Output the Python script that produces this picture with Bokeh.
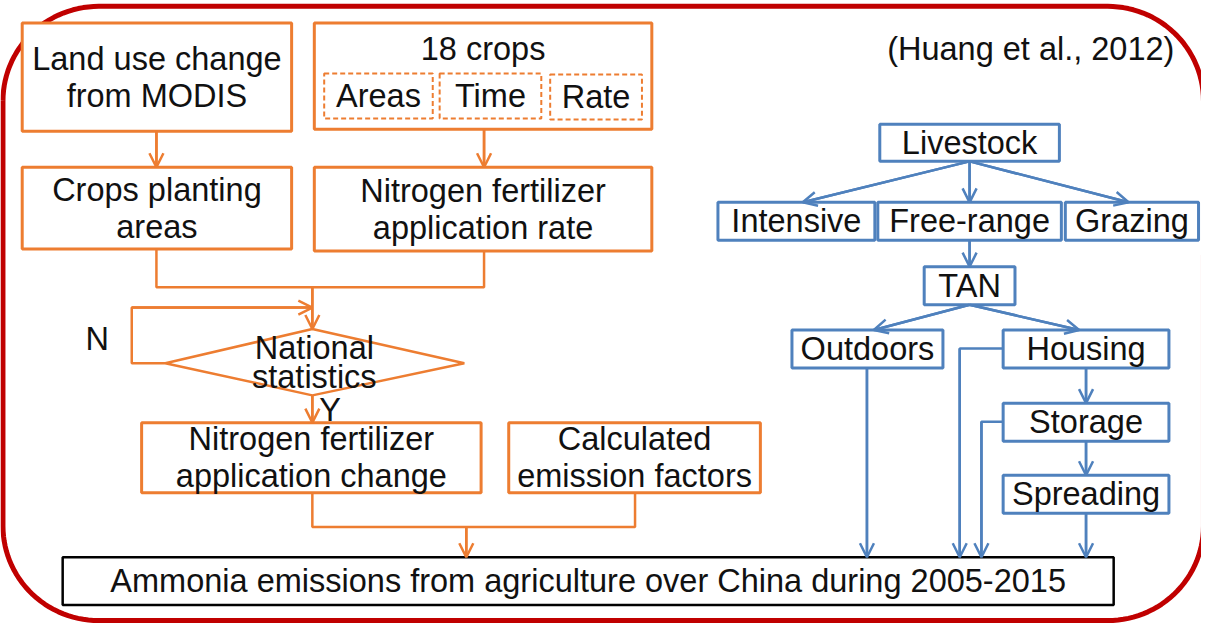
import numpy as np
from bokeh.plotting import figure
from bokeh.models import Range1d, ColumnDataSource, Arrow, OpenHead
from bokeh.core.properties import value
from bokeh.embed import file_html
from bokeh.resources import INLINE

ORANGE = "#ED7D31"
BLUE = "#4F81BD"
RED = "#C00000"
FONT = value("Liberation Sans")
FS = "32.5px"

# ---- boxes: label lines, left, right, top, bottom ----
orange_boxes = [
    (["Land use change", "from MODIS"], 22, 295, 23, 134),
    (["18 crops"], 318, 660, 23, 132),
    (["Crops planting", "areas"], 22, 295, 171, 255),
    (["Nitrogen fertilizer", "application rate"], 318, 660, 171, 257),
    (["Nitrogen fertilizer", "application change"], 143, 487, 433, 505),
    (["Calculated", "emission factors"], 515, 770, 433, 505),
]
dashed_boxes = [
    (["Areas"], 328, 438, 75, 121),
    (["Time"], 445, 548, 75, 121),
    (["Rate"], 557, 650, 76, 122),
]
blue_boxes = [
    (["Livestock"], 891, 1073, 127, 165),
    (["Intensive"], 727, 886, 207, 246),
    (["Free-range"], 889, 1075, 207, 246),
    (["Grazing"], 1079, 1214, 207, 246),
    (["TAN"], 936, 1028, 273, 312),
    (["Outdoors"], 802, 955, 338, 377),
    (["Housing"], 1016, 1184, 338, 377),
    (["Storage"], 1016, 1184, 413, 452),
    (["Spreading"], 1016, 1184, 487, 526),
]
black_boxes = [
    (["Ammonia emissions from agriculture over China during 2005-2015"], 63, 1128, 571, 620),
]
diamond_label = ["National", "statistics"]
diamond_x = [167, 316, 470, 316]
diamond_y = [372, 337, 372, 405]

free_labels = ["(Huang et al., 2012)", "N", "Y"]
free_x = [1044, 98, 334]
free_y = [50, 347, 420]

# ---- connectors: polyline points, arrow at end? ----
orange_links = [
    ([158, 158], [134, 171], True),
    ([490, 490], [132, 171], True),
    ([158, 158, 490, 490], [255, 294, 294, 257], False),
    ([316, 316], [294, 337], True),
    ([167, 133, 133, 316], [372, 372, 315, 315], True),
    ([316, 316], [405, 433], True),
    ([316, 316, 643, 643], [505, 540, 540, 505], False),
    ([472, 472], [540, 571], True),
]
blue_links = [
    ([982, 813], [165, 207], True),
    ([982, 982], [165, 207], True),
    ([982, 1143], [165, 207], True),
    ([982, 982], [246, 273], True),
    ([982, 885], [312, 338], True),
    ([982, 1093], [312, 338], True),
    ([1100, 1100], [377, 413], True),
    ([1100, 1100], [452, 487], True),
    ([1100, 1100], [526, 571], True),
    ([878, 878], [377, 571], True),
    ([1016, 972, 972], [357, 357, 571], True),
    ([1016, 994, 994], [432, 432, 571], True),
]

p = figure(width=1201, height=623, x_range=Range1d(0, 1217), y_range=Range1d(639, 0),
           output_backend="svg", toolbar_location=None, min_border=0,
           x_axis_type=None, y_axis_type=None)
p.grid.visible = False
p.outline_line_color = None
p.background_fill_color = "white"
p.border_fill_color = "white"

# rounded red frame
L, R, T, B, rad = 2.5, 1219, 6, 636, 97
def arc(cx, cy, a0, a1):
    t = np.linspace(np.radians(a0), np.radians(a1), 30)
    return cx + rad * np.cos(t), cy + rad * np.sin(t)
segs = [arc(L + rad, T + rad, 180, 270), arc(R - rad, T + rad, 270, 360),
        arc(R - rad, B - rad, 0, 90), arc(L + rad, B - rad, 90, 180)]
fx = np.concatenate([s[0] for s in segs] + [segs[0][0][:1]])
fy = np.concatenate([s[1] for s in segs] + [segs[0][1][:1]])
p.line(fx, fy, line_color=RED, line_width=5)

def draw_links(links, color):
    p.multi_line([l[0] for l in links], [l[1] for l in links], line_color=color, line_width=2.5)
    arr = [l for l in links if l[2]]
    src = ColumnDataSource(dict(x0=[l[0][-2] for l in arr], y0=[l[1][-2] for l in arr],
                                x1=[l[0][-1] for l in arr], y1=[l[1][-1] for l in arr]))
    p.add_layout(Arrow(end=OpenHead(size=14, line_color=color, line_width=2.5),
                       x_start="x0", y_start="y0", x_end="x1", y_end="y1", source=src,
                       line_color=color, line_width=2.5))

draw_links(orange_links, ORANGE)
draw_links(blue_links, BLUE)

def draw_boxes(boxes, color, width, dash="solid"):
    p.quad(left=[b[1] for b in boxes], right=[b[2] for b in boxes],
           top=[b[3] for b in boxes], bottom=[b[4] for b in boxes],
           fill_color="white", line_color=color, line_width=width, line_dash=dash)

draw_boxes(orange_boxes, ORANGE, 3)
draw_boxes(dashed_boxes, ORANGE, 2, "5 3")
draw_boxes(blue_boxes, BLUE, 3)
draw_boxes(black_boxes, "black", 2.5)

p.patch(diamond_x, diamond_y, fill_color="white", line_color=ORANGE, line_width=2.5)

tx, ty, tt = [], [], []
def add_text(labels, cx, top, bottom, spacing=38):
    n = len(labels)
    cy = (top + bottom) / 2
    for i, s in enumerate(labels):
        tx.append(cx)
        ty.append(cy + (i - (n - 1) / 2) * spacing)
        tt.append(s)

for b in orange_boxes[:1] + orange_boxes[2:] + dashed_boxes + blue_boxes + black_boxes:
    add_text(b[0], (b[1] + b[2]) / 2, b[3], b[4])
# "18 crops" heading sits near top of its box
tx.append((orange_boxes[1][1] + orange_boxes[1][2]) / 2); ty.append(50); tt.append(orange_boxes[1][0][0])
add_text(diamond_label, 318, 337, 405, spacing=30)
for s, x, y in zip(free_labels, free_x, free_y):
    tx.append(x); ty.append(y); tt.append(s)

p.text(x=tx, y=ty, text=tt, text_font=FONT, text_font_size=FS, text_color="#111111",
       text_align="center", text_baseline="middle")

open("out.html", "w").write(file_html(p, INLINE))
